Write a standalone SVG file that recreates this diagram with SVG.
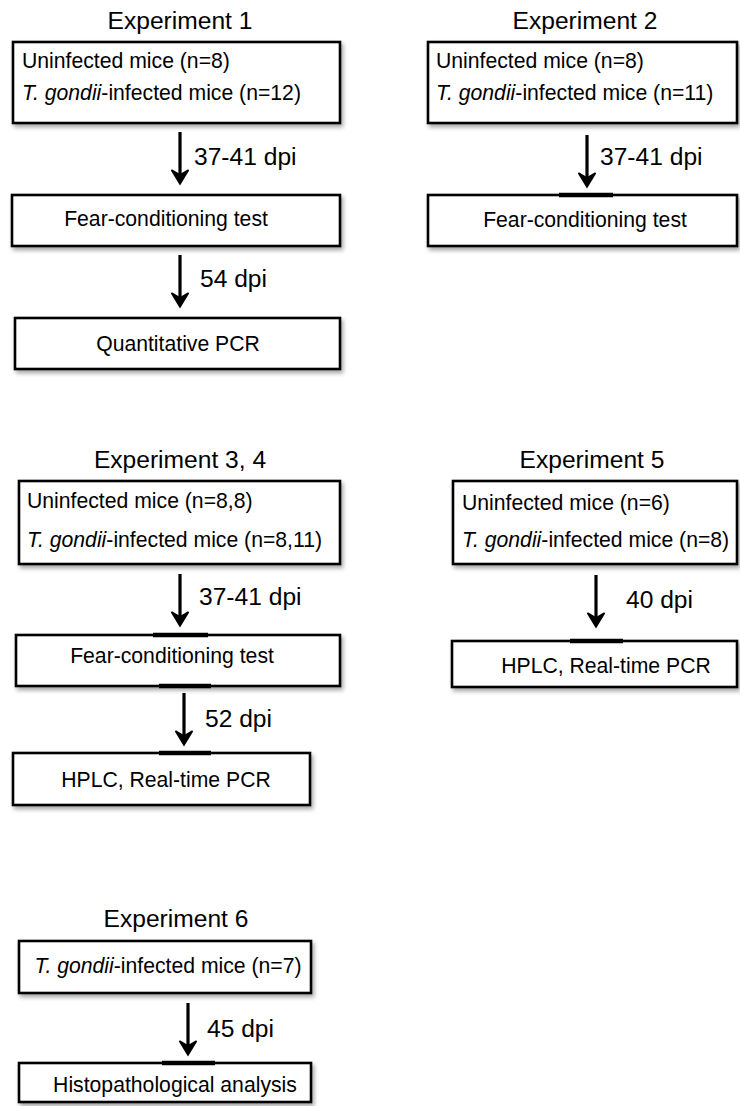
<svg xmlns="http://www.w3.org/2000/svg" width="740" height="1106" viewBox="0 0 740 1106">
  <defs>
    <filter id="shadow" x="-5%" y="-10%" width="115%" height="140%">
      <feDropShadow dx="2" dy="3" stdDeviation="2" flood-color="#000" flood-opacity="0.35"/>
    </filter>
    <!-- downward arrow: shaft plus barbed head, tip at origin -->
    <g id="down-arrow">
      <line x1="0" y1="-52" x2="0" y2="-8" stroke="#000" stroke-width="3.2"/>
      <path d="M0,0 L-8.5,-14 L0,-9 L8.5,-14 Z" fill="#000" stroke="#000" stroke-width="1.5" stroke-linejoin="miter"/>
    </g>
  </defs>
  <style>
    .box { fill: #fff; stroke: #000; stroke-width: 2.6; filter: url(#shadow); }
    .tick { stroke: #000; stroke-width: 4.5; }
    .title { font-family: "Liberation Sans", Arial, sans-serif; font-size: 24.6px; fill: #000; text-anchor: middle; }
    .body { font-family: "Liberation Sans", Arial, sans-serif; font-size: 21.2px; fill: #000; }
    .mid { text-anchor: middle; }
    .lbl { font-family: "Liberation Sans", Arial, sans-serif; font-size: 24.6px; fill: #000; }
  </style>
  <rect width="740" height="1106" fill="#fff"/>

  <!-- Experiment 1 -->
  <g id="exp1">
    <text class="title" x="180" y="29">Experiment 1</text>
    <g id="exp1-groups">
      <rect class="box" x="13" y="42" width="327" height="81"/>
      <text class="body" x="22" y="68">Uninfected mice (n=8)</text>
      <text class="body" x="22" y="100"><tspan font-style="italic">T. gondii</tspan>-infected mice (n=12)</text>
    </g>
    <g id="exp1-fear">
      <rect class="box" x="12" y="195" width="328" height="51"/>
      <text class="body mid" x="166" y="226">Fear-conditioning test</text>
    </g>
    <g id="exp1-pcr">
      <rect class="box" x="15" y="318" width="325" height="51"/>
      <text class="body mid" x="178" y="351">Quantitative PCR</text>
    </g>
  </g>

  <!-- Experiment 2 -->
  <g id="exp2">
    <text class="title" x="585" y="29">Experiment 2</text>
    <g id="exp2-groups">
      <rect class="box" x="428" y="42" width="309" height="81"/>
      <text class="body" x="436" y="68">Uninfected mice (n=8)</text>
      <text class="body" x="436" y="100"><tspan font-style="italic">T. gondii</tspan>-infected mice (n=11)</text>
    </g>
    <g id="exp2-fear">
      <rect class="box" x="428" y="195" width="309" height="51"/>
      <line class="tick" x1="559" y1="195" x2="613" y2="195"/>
      <text class="body mid" x="585" y="227">Fear-conditioning test</text>
    </g>
  </g>

  <!-- Experiment 3, 4 -->
  <g id="exp34">
    <text class="title" x="180" y="468">Experiment 3, 4</text>
    <g id="exp34-groups">
      <rect class="box" x="19" y="481" width="321" height="83"/>
      <text class="body" x="27" y="508">Uninfected mice (n=8,8)</text>
      <text class="body" x="27" y="547"><tspan font-style="italic">T. gondii</tspan>-infected mice (n=8,11)</text>
    </g>
    <g id="exp34-fear">
      <rect class="box" x="16" y="635" width="324" height="51"/>
      <line class="tick" x1="153" y1="635" x2="208" y2="635"/>
      <line class="tick" x1="159" y1="686" x2="211" y2="686"/>
      <text class="body mid" x="172" y="663">Fear-conditioning test</text>
    </g>
    <g id="exp34-hplc">
      <rect class="box" x="13" y="753" width="297" height="52"/>
      <line class="tick" x1="159" y1="753" x2="211" y2="753"/>
      <text class="body mid" x="166" y="787">HPLC, Real-time PCR</text>
    </g>
  </g>

  <!-- Experiment 5 -->
  <g id="exp5">
    <text class="title" x="592" y="468">Experiment 5</text>
    <g id="exp5-groups">
      <rect class="box" x="453" y="481" width="284" height="83"/>
      <text class="body" x="462" y="510">Uninfected mice (n=6)</text>
      <text class="body" x="462" y="547"><tspan font-style="italic">T. gondii</tspan>-infected mice (n=8)</text>
    </g>
    <g id="exp5-hplc">
      <rect class="box" x="452" y="641" width="285" height="46"/>
      <line class="tick" x1="570" y1="641" x2="623" y2="641"/>
      <text class="body mid" x="606" y="673">HPLC, Real-time PCR</text>
    </g>
  </g>

  <!-- Experiment 6 -->
  <g id="exp6">
    <text class="title" x="176" y="927">Experiment 6</text>
    <g id="exp6-groups">
      <rect class="box" x="19" y="941" width="292" height="52"/>
      <text class="body mid" x="168" y="973"><tspan font-style="italic">T. gondii</tspan>-infected mice (n=7)</text>
    </g>
    <g id="exp6-histo">
      <rect class="box" x="19" y="1063" width="292" height="39"/>
      <line class="tick" x1="162" y1="1063" x2="215" y2="1063"/>
      <text class="body mid" x="175" y="1092">Histopathological analysis</text>
    </g>
  </g>

  <!-- connectors -->
  <g id="connectors">
    <use href="#down-arrow" x="180" y="184"/>
    <text class="lbl" x="194" y="165">37-41 dpi</text>
    <use href="#down-arrow" x="180" y="307"/>
    <text class="lbl" x="200" y="287">54 dpi</text>

    <use href="#down-arrow" x="587" y="187"/>
    <text class="lbl" x="600" y="165">37-41 dpi</text>

    <use href="#down-arrow" x="180" y="626"/>
    <text class="lbl" x="199" y="605">37-41 dpi</text>
    <use href="#down-arrow" x="184" y="745"/>
    <text class="lbl" x="205" y="727">52 dpi</text>

    <use href="#down-arrow" x="596" y="627"/>
    <text class="lbl" x="626" y="608">40 dpi</text>

    <use href="#down-arrow" x="188" y="1055"/>
    <text class="lbl" x="207" y="1037">45 dpi</text>
  </g>
</svg>
